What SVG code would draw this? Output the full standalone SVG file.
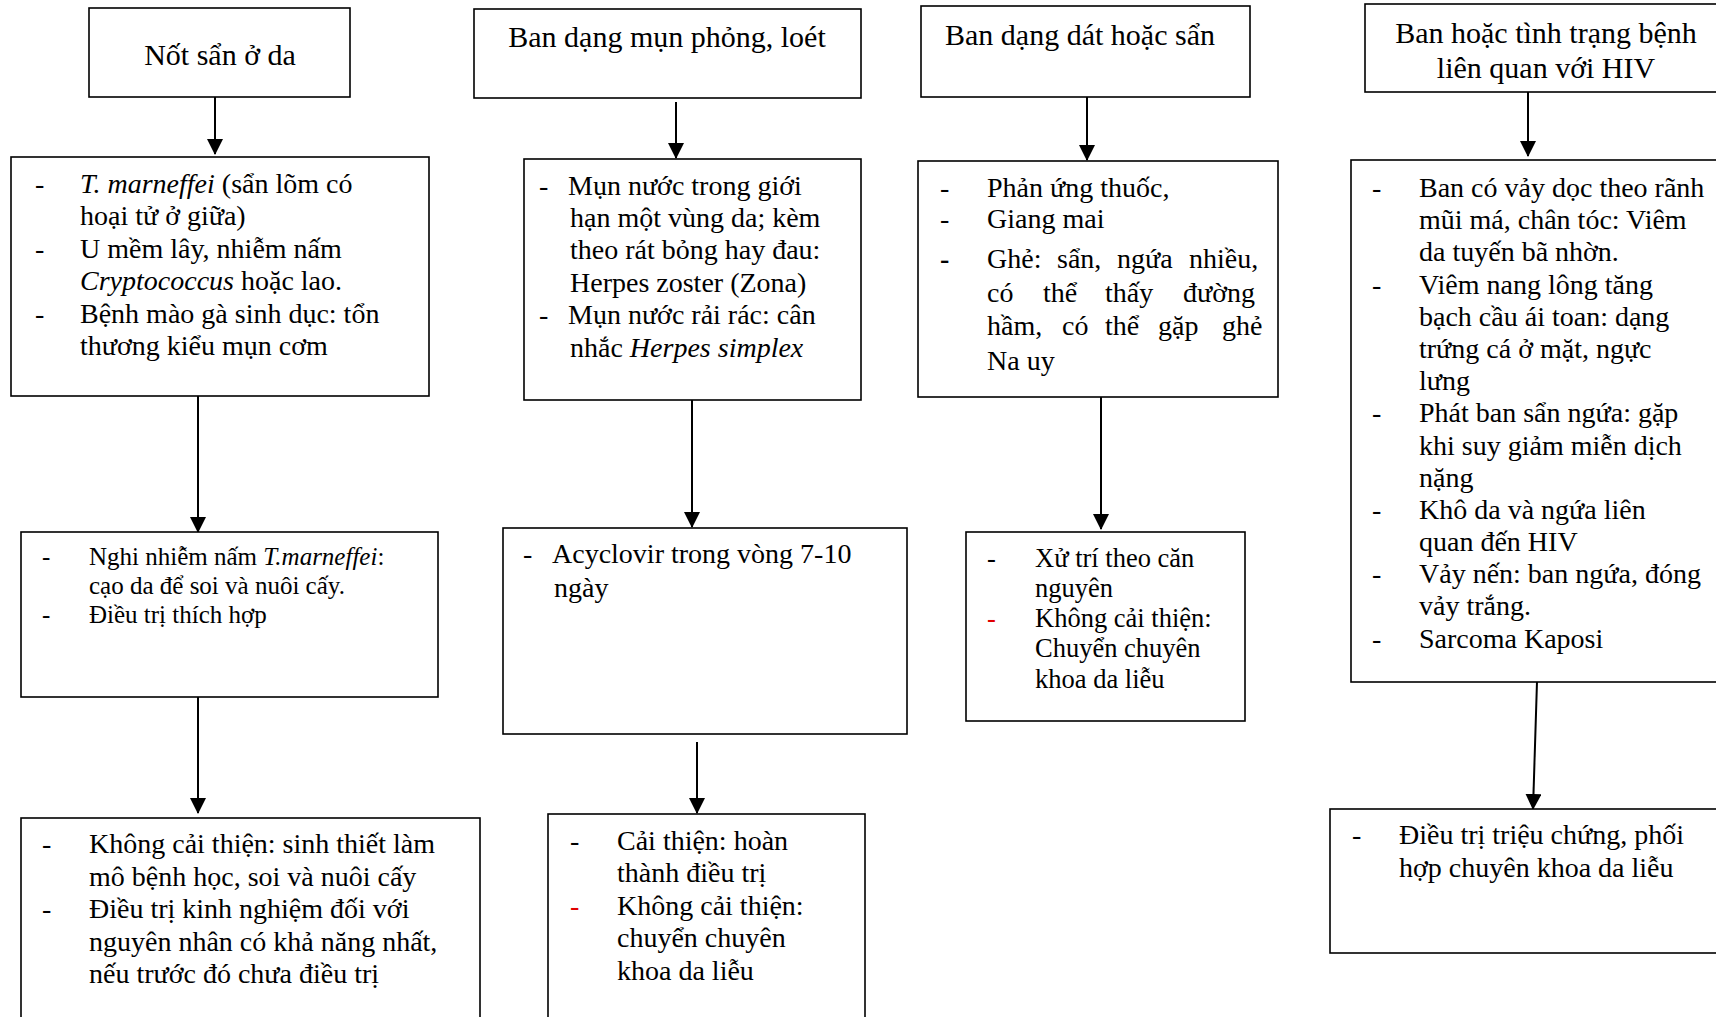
<svg xmlns="http://www.w3.org/2000/svg" width="1716" height="1017" viewBox="0 0 1716 1017">
<defs>
<marker id="ah" markerUnits="userSpaceOnUse" markerWidth="16" markerHeight="16" refX="15" refY="8" orient="auto">
<path d="M0,0 L16,8 L0,16 Z" fill="#000"/>
</marker>
<style>
rect{fill:#fff;stroke:#000;stroke-width:1.6}
text{font-family:"Liberation Serif","Times New Roman",serif;fill:#000}
.h{font-size:30px}
.b{font-size:28px}
.s{font-size:25px}
.m{font-size:26.5px}
.c{text-anchor:middle}
.i{font-style:italic}
.r{fill:#e00000}
.con line{stroke:#000;stroke-width:2;marker-end:url(#ah)}
</style>
</defs>
<rect x="0" y="0" width="1716" height="1017" style="fill:#fff;stroke:none"/>

<g id="connectors" class="con">
<line x1="215" y1="97" x2="215" y2="154"/>
<line x1="198" y1="396" x2="198" y2="532"/>
<line x1="198" y1="697" x2="198" y2="813"/>
<line x1="676" y1="102" x2="676" y2="158"/>
<line x1="692" y1="393" x2="692" y2="527"/>
<line x1="697" y1="742" x2="697" y2="813"/>
<line x1="1087" y1="97" x2="1087" y2="160"/>
<line x1="1101" y1="393" x2="1101" y2="529"/>
<line x1="1528" y1="92" x2="1528" y2="156"/>
<line x1="1537" y1="682" x2="1533" y2="809"/>
</g>

<g id="n1-head">
<rect x="89" y="8" width="261" height="89"/>
<text class="h c" x="220" y="65">Nốt sẩn ở da</text>
</g>
<g id="n1-causes">
<rect x="11" y="157" width="418" height="239"/>
<text class="b" x="35" y="193">-</text>
<text class="b" x="80" y="193"><tspan class="i">T. marneffei</tspan> (sẩn lõm có</text>
<text class="b" x="80" y="225">hoại tử ở giữa)</text>
<text class="b" x="35" y="258">-</text>
<text class="b" x="80" y="258">U mềm lây, nhiễm nấm</text>
<text class="b" x="80" y="290"><tspan class="i">Cryptococcus</tspan> hoặc lao.</text>
<text class="b" x="35" y="323">-</text>
<text class="b" x="80" y="323">Bệnh mào gà sinh dục: tổn</text>
<text class="b" x="80" y="355">thương kiểu mụn cơm</text>
</g>
<g id="n1-step">
<rect x="21" y="532" width="417" height="165"/>
<text class="s" x="42" y="565">-</text>
<text class="s" x="89" y="565">Nghi nhiễm nấm <tspan class="i">T.marneffei</tspan>:</text>
<text class="s" x="89" y="594">cạo da để soi và nuôi cấy.</text>
<text class="s" x="42" y="623">-</text>
<text class="s" x="89" y="623">Điều trị thích hợp</text>
</g>
<g id="n1-final">
<rect x="21" y="818" width="459" height="230"/>
<text class="b" x="42" y="853">-</text>
<text class="b" x="89" y="853">Không cải thiện: sinh thiết làm</text>
<text class="b" x="89" y="886">mô bệnh học, soi và nuôi cấy</text>
<text class="b" x="42" y="918">-</text>
<text class="b" x="89" y="918">Điều trị kinh nghiệm đối với</text>
<text class="b" x="89" y="951">nguyên nhân có khả năng nhất,</text>
<text class="b" x="89" y="983">nếu trước đó chưa điều trị</text>
</g>

<g id="n2-head">
<rect x="474" y="9" width="387" height="89"/>
<text class="h c" x="667" y="47">Ban dạng mụn phỏng, loét</text>
</g>
<g id="n2-causes">
<rect x="524" y="159" width="337" height="241"/>
<text class="b" x="539" y="195">-</text>
<text class="b" x="568" y="195">Mụn nước trong giới</text>
<text class="b" x="570" y="227">hạn một vùng da; kèm</text>
<text class="b" x="570" y="259">theo rát bỏng hay đau:</text>
<text class="b" x="570" y="292">Herpes zoster (Zona)</text>
<text class="b" x="539" y="324">-</text>
<text class="b" x="568" y="324">Mụn nước rải rác: cân</text>
<text class="b" x="570" y="357">nhắc <tspan class="i">Herpes simplex</tspan></text>
</g>
<g id="n2-step">
<rect x="503" y="528" width="404" height="206"/>
<text class="b" x="523" y="563">-</text>
<text class="b" x="552" y="563">Acyclovir trong vòng 7-10</text>
<text class="b" x="554" y="597">ngày</text>
</g>
<g id="n2-final">
<rect x="548" y="814" width="317" height="230"/>
<text class="b" x="570" y="850">-</text>
<text class="b" x="617" y="850">Cải thiện: hoàn</text>
<text class="b" x="617" y="882">thành điều trị</text>
<text class="b r" x="570" y="915">-</text>
<text class="b" x="617" y="915">Không cải thiện:</text>
<text class="b" x="617" y="947">chuyển chuyên</text>
<text class="b" x="617" y="980">khoa da liễu</text>
</g>

<g id="n3-head">
<rect x="921" y="6" width="329" height="91"/>
<text class="h c" x="1080" y="45">Ban dạng dát hoặc sẩn</text>
</g>
<g id="n3-causes">
<rect x="918" y="161" width="360" height="236"/>
<text class="b" x="940" y="197">-</text>
<text class="b" x="987" y="197">Phản ứng thuốc,</text>
<text class="b" x="940" y="228">-</text>
<text class="b" x="987" y="228">Giang mai</text>
<text class="b" x="940" y="268" font-weight="bold">-</text>
<text class="b" y="268"><tspan x="987">Ghẻ:</tspan><tspan x="1057">sẩn,</tspan><tspan x="1117">ngứa</tspan><tspan x="1189">nhiều,</tspan></text>
<text class="b" y="302"><tspan x="987">có</tspan><tspan x="1043">thể</tspan><tspan x="1105">thấy</tspan><tspan x="1183">đường</tspan></text>
<text class="b" y="335"><tspan x="987">hầm,</tspan><tspan x="1062">có</tspan><tspan x="1105">thể</tspan><tspan x="1158">gặp</tspan><tspan x="1222">ghẻ</tspan></text>
<text class="b" x="987" y="370">Na uy</text>
</g>
<g id="n3-step">
<rect x="966" y="532" width="279" height="189"/>
<text class="m" x="987" y="567">-</text>
<text class="m" x="1035" y="567">Xử trí theo căn</text>
<text class="m" x="1035" y="597">nguyên</text>
<text class="m r" x="987" y="627">-</text>
<text class="m" x="1035" y="627">Không cải thiện:</text>
<text class="m" x="1035" y="657">Chuyển chuyên</text>
<text class="m" x="1035" y="688">khoa da liễu</text>
</g>

<g id="n4-head">
<rect x="1365" y="4" width="400" height="88"/>
<text class="h c" x="1546" y="43">Ban hoặc tình trạng bệnh</text>
<text class="h c" x="1546" y="78">liên quan với HIV</text>
</g>
<g id="n4-causes">
<rect x="1351" y="160" width="400" height="522"/>
<text class="b" x="1372" y="197">-</text>
<text class="b" x="1419" y="197">Ban có vảy dọc theo rãnh</text>
<text class="b" x="1419" y="229">mũi má, chân tóc: Viêm</text>
<text class="b" x="1419" y="261">da tuyến bã nhờn.</text>
<text class="b" x="1372" y="294">-</text>
<text class="b" x="1419" y="294">Viêm nang lông tăng</text>
<text class="b" x="1419" y="326">bạch cầu ái toan: dạng</text>
<text class="b" x="1419" y="358">trứng cá ở mặt, ngực</text>
<text class="b" x="1419" y="390">lưng</text>
<text class="b" x="1372" y="422">-</text>
<text class="b" x="1419" y="422">Phát ban sẩn ngứa: gặp</text>
<text class="b" x="1419" y="455">khi suy giảm miễn dịch</text>
<text class="b" x="1419" y="487">nặng</text>
<text class="b" x="1372" y="519">-</text>
<text class="b" x="1419" y="519">Khô da và ngứa liên</text>
<text class="b" x="1419" y="551">quan đến HIV</text>
<text class="b" x="1372" y="583">-</text>
<text class="b" x="1419" y="583">Vảy nến: ban ngứa, đóng</text>
<text class="b" x="1419" y="615">vảy trắng.</text>
<text class="b" x="1372" y="648">-</text>
<text class="b" x="1419" y="648">Sarcoma Kaposi</text>
</g>
<g id="n4-final">
<rect x="1330" y="809" width="420" height="144"/>
<text class="b" x="1352" y="844">-</text>
<text class="b" x="1399" y="844">Điều trị triệu chứng, phối</text>
<text class="b" x="1399" y="877">hợp chuyên khoa da liễu</text>
</g>
</svg>
